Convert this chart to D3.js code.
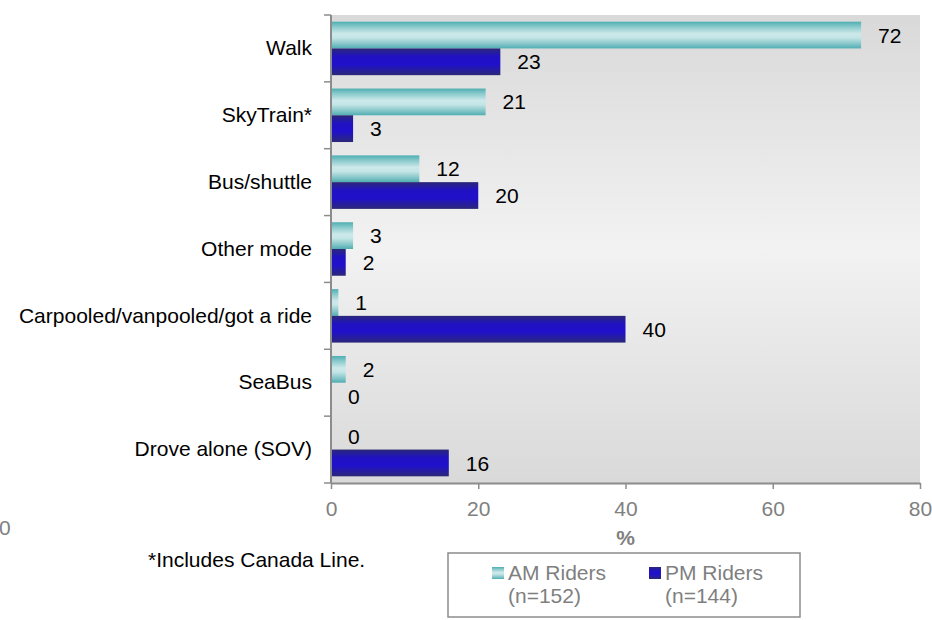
<!DOCTYPE html>
<html>
<head>
<meta charset="utf-8">
<script src="https://cdn.jsdelivr.net/npm/d3@7"></script>
<style>
  html, body { margin: 0; padding: 0; background: #fff; }
  svg { display: block; font-family: "Liberation Sans", Arial, sans-serif; }
</style>
</head>
<body>
<svg id="chart" width="932" height="620"></svg>
<script>
// Travel mode shares (%) by rider group
const categories = ["Walk", "SkyTrain*", "Bus/shuttle", "Other mode",
  "Carpooled/vanpooled/got a ride", "SeaBus", "Drove alone (SOV)"];
const amValues = [72, 21, 12, 3, 1, 2, 0];
const pmValues = [23, 3, 20, 2, 40, 0, 16];
const seriesNames = ["AM Riders", "PM Riders"];
const seriesNotes = ["(n=152)", "(n=144)"];
const xTicks = [0, 20, 40, 60, 80];
const footnote = "*Includes Canada Line.";
const xTitle = "%";

const svg = d3.select("#chart");
const plot = { left: 331, right: 920, top: 15, bottom: 483 };
const fontSize = 21;

const defs = svg.append("defs");
function vGrad(id, stops) {
  const g = defs.append("linearGradient").attr("id", id)
    .attr("x1", 0).attr("y1", 0).attr("x2", 0).attr("y2", 1);
  stops.forEach(([o, c]) => g.append("stop").attr("offset", o).attr("stop-color", c));
}
vGrad("bgGrad", [[0, "#d9d9d9"], [0.5, "#f2f2f2"], [1, "#d9d9d9"]]);
vGrad("amGrad", [[0, "#4eaeb2"], [0.2, "#8ccbcd"], [0.45, "#cde9ea"], [0.6, "#c4e5e6"], [0.85, "#7fc3c6"], [1, "#4eaeb2"]]);
vGrad("pmGrad", [[0, "#2b2877"], [0.3, "#2012c2"], [0.6, "#2010cc"], [1, "#2b2877"]]);

const x = d3.scaleLinear().domain([0, 80]).range([plot.left, plot.right]);
const y = d3.scaleBand().domain(categories).range([plot.top, plot.bottom]);
const sub = d3.scaleBand().domain(seriesNames).range([0, y.bandwidth()]).paddingOuter(0.25);

// plot area
svg.append("rect")
  .attr("x", plot.left).attr("y", plot.top)
  .attr("width", plot.right - plot.left).attr("height", plot.bottom - plot.top)
  .attr("fill", "url(#bgGrad)");

const series = [
  { name: seriesNames[0], values: amValues, fill: "url(#amGrad)" },
  { name: seriesNames[1], values: pmValues, fill: "url(#pmGrad)" }
];

series.forEach(s => {
  const g = svg.append("g");
  g.selectAll("rect").data(categories).join("rect")
    .attr("x", x(0))
    .attr("y", (c) => y(c) + sub(s.name))
    .attr("width", (c, i) => x(s.values[i]) - x(0))
    .attr("height", sub.bandwidth())
    .attr("fill", s.fill);
  g.selectAll("text").data(categories).join("text")
    .attr("x", (c, i) => x(s.values[i]) + 17)
    .attr("y", (c) => y(c) + sub(s.name) + sub.bandwidth() / 2)
    .attr("dy", "0.36em")
    .attr("font-size", fontSize)
    .attr("fill", "#000")
    .text((c, i) => s.values[i]);
});

// x axis
const xAxis = svg.append("g")
  .attr("transform", `translate(0,${plot.bottom})`)
  .call(d3.axisBottom(x).tickValues(xTicks).tickSize(6).tickPadding(12).tickSizeOuter(0));
xAxis.select(".domain").attr("stroke", "#8c8c8c").attr("stroke-width", 2);
xAxis.selectAll(".tick line").attr("stroke", "#8c8c8c").attr("stroke-width", 1.5);
xAxis.selectAll(".tick text").attr("font-size", fontSize).attr("fill", "#808080")
  .attr("font-family", "Liberation Sans, Arial, sans-serif");

svg.append("text")
  .attr("x", (plot.left + plot.right) / 2).attr("y", 545)
  .attr("text-anchor", "middle").attr("font-size", fontSize)
  .attr("font-weight", "bold").attr("fill", "#808080")
  .text(xTitle);

// y axis: labels at band centres, ticks at band boundaries
const yAxis = svg.append("g")
  .attr("transform", `translate(${plot.left},0)`)
  .call(d3.axisLeft(y).tickSize(0).tickPadding(19));
yAxis.select(".domain").remove();
yAxis.selectAll(".tick text").attr("font-size", fontSize).attr("fill", "#000")
  .attr("font-family", "Liberation Sans, Arial, sans-serif");

const bounds = categories.map(c => y(c)).concat([y.range()[1]]);
svg.append("g").selectAll("line").data(bounds).join("line")
  .attr("x1", plot.left - 7).attr("x2", plot.left)
  .attr("y1", d => d).attr("y2", d => d)
  .attr("stroke", "#8c8c8c").attr("stroke-width", 1.5);
svg.append("line")
  .attr("x1", plot.left).attr("x2", plot.left)
  .attr("y1", plot.top).attr("y2", plot.bottom)
  .attr("stroke", "#8c8c8c").attr("stroke-width", 2);

// stray axis label at far left
svg.append("text").attr("x", -1).attr("y", 535)
  .attr("font-size", fontSize).attr("fill", "#808080").text("0");

// footnote
svg.append("text").attr("x", 148).attr("y", 567)
  .attr("font-size", fontSize).attr("fill", "#000").text(footnote);

// legend
const legend = svg.append("g");
legend.append("rect")
  .attr("x", 448).attr("y", 553).attr("width", 352).attr("height", 64)
  .attr("fill", "#fff").attr("stroke", "#8c8c8c").attr("stroke-width", 1.5);
const legendX = [492, 649];
series.forEach((s, i) => {
  legend.append("rect")
    .attr("x", legendX[i]).attr("y", 567).attr("width", 12).attr("height", 12)
    .attr("fill", s.fill);
  legend.append("text").attr("x", legendX[i] + 16).attr("y", 580)
    .attr("font-size", fontSize).attr("fill", "#7f7f7f").text(s.name);
  legend.append("text").attr("x", legendX[i] + 16).attr("y", 603)
    .attr("font-size", fontSize).attr("fill", "#7f7f7f").text(seriesNotes[i]);
});
</script>
</body>
</html>
